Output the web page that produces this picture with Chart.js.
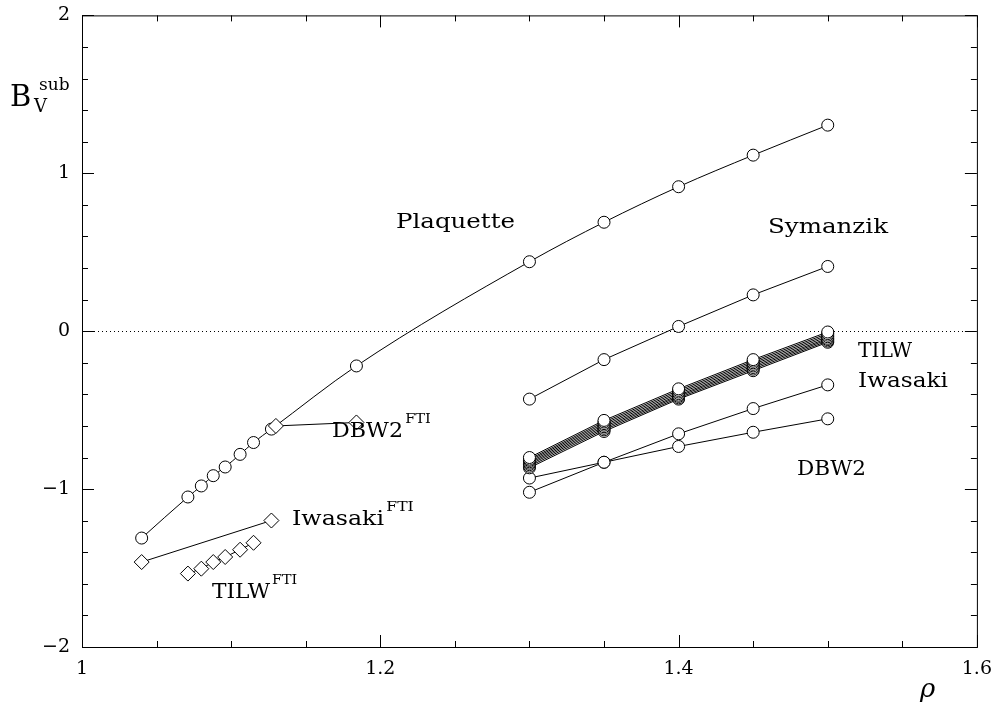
<!DOCTYPE html>
<html>
<head>
<meta charset="utf-8">
<script src="https://cdn.jsdelivr.net/npm/chart.js@4.4.0/dist/chart.umd.min.js"></script>
<style>
html, body { margin: 0; padding: 0; background: #fff; }
#wrap { width: 995px; height: 717px; position: relative; }
</style>
</head>
<body>
<div id="wrap"><canvas id="c"></canvas></div>
<script>
// rho values of the runs
var rhoFine = [1.3, 1.35, 1.4, 1.45, 1.5];

// plaquette action, full range
var plaqX = [1.040, 1.071, 1.080, 1.088, 1.096, 1.106, 1.115, 1.127, 1.184, 1.3, 1.35, 1.4, 1.45, 1.5];
var plaqY = [-1.31, -1.05, -0.98, -0.915, -0.86, -0.78, -0.705, -0.62, -0.22, 0.44, 0.69, 0.915, 1.115, 1.305];

var symanzikY = [-0.43, -0.18, 0.03, 0.23, 0.41];
var iwasakiY = [-0.93, -0.83, -0.65, -0.49, -0.34];
var dbw2Y = [-1.02, -0.83, -0.73, -0.64, -0.555];

// bundle of TILW curves (different c1)
var tilw1 = [-0.800, -0.565, -0.365, -0.180, -0.005];
var tilw2 = [-0.810, -0.575, -0.375, -0.190, -0.015];
var tilw3 = [-0.818, -0.585, -0.385, -0.200, -0.025];
var tilw4 = [-0.827, -0.595, -0.395, -0.210, -0.035];
var tilw5 = [-0.836, -0.605, -0.405, -0.220, -0.045];
var tilw6 = [-0.845, -0.615, -0.413, -0.230, -0.053];
var tilw7 = [-0.855, -0.625, -0.422, -0.240, -0.062];
var tilw8 = [-0.865, -0.635, -0.430, -0.250, -0.070];

// FTI points
var dbw2FtiX = [1.130, 1.184];
var dbw2FtiY = [-0.60, -0.578];
var iwaFtiX = [1.040, 1.127];
var iwaFtiY = [-1.462, -1.199];
var tilwFtiX = [1.071, 1.080, 1.088, 1.096, 1.106, 1.115];
var tilwFtiY = [-1.535, -1.504, -1.462, -1.430, -1.384, -1.340];

var xTicks = [1, 1.2, 1.4, 1.6];
var yTicks = [-2, -1, 0, 1, 2];

function pts(xs, ys) {
    var out = [];
    for (var i = 0; i < xs.length; i++) {
        out.push({x: xs[i], y: ys[i]});
    }
    return out;
}

function series(xs, ys, shape, smooth) {
    return {
        data: pts(xs, ys),
        showLine: true,
        borderColor: '#000',
        borderWidth: 1,
        backgroundColor: '#fff',
        pointBackgroundColor: '#fff',
        pointBorderColor: '#000',
        pointBorderWidth: 1,
        pointStyle: shape,
        pointRadius: shape == 'rectRot' ? 7.5 : 6,
        cubicInterpolationMode: smooth ? 'monotone' : 'default',
        tension: 0
    };
}

// first entries end up on top
var datasets = [
    series(dbw2FtiX, dbw2FtiY, 'rectRot'),
    series(iwaFtiX, iwaFtiY, 'rectRot'),
    series(tilwFtiX, tilwFtiY, 'rectRot'),
    series(plaqX, plaqY, 'circle', true),
    series(rhoFine, symanzikY, 'circle'),
    series(rhoFine, tilw1, 'circle'),
    series(rhoFine, tilw2, 'circle'),
    series(rhoFine, tilw3, 'circle'),
    series(rhoFine, tilw4, 'circle'),
    series(rhoFine, tilw5, 'circle'),
    series(rhoFine, tilw6, 'circle'),
    series(rhoFine, tilw7, 'circle'),
    series(rhoFine, tilw8, 'circle'),
    series(rhoFine, iwasakiY, 'circle'),
    series(rhoFine, dbw2Y, 'circle')
];

var serif = '"DejaVu Serif", serif';

// draw text squeezed/stretched to a given width
function label(ctx, txt, x, y, width, sup) {
    ctx.save();
    ctx.font = '20.5px ' + serif;
    ctx.textAlign = 'left';
    ctx.textBaseline = 'alphabetic';
    var w = ctx.measureText(txt).width;
    var k = width / w;
    ctx.translate(x, y);
    ctx.scale(k, 1);
    ctx.fillText(txt, 0, 0);
    if (sup) {
        ctx.font = '13.5px ' + serif;
        ctx.fillText(sup, w + 2, -14);
    }
    ctx.restore();
}

var frame = {
    id: 'frame',
    beforeDatasetsDraw: function(chart) {
        var ctx = chart.ctx, a = chart.chartArea;
        var ys = chart.scales.y;
        ctx.save();
        // dotted zero line
        ctx.strokeStyle = '#000';
        ctx.lineWidth = 1;
        ctx.setLineDash([1, 3]);
        ctx.beginPath();
        var y0 = Math.round(ys.getPixelForValue(0)) + 0.5;
        ctx.moveTo(a.left, y0);
        ctx.lineTo(a.right, y0);
        ctx.stroke();
        ctx.restore();
    },
    afterDraw: function(chart) {
        var ctx = chart.ctx, a = chart.chartArea;
        var xs = chart.scales.x, ys = chart.scales.y;
        ctx.save();
        ctx.strokeStyle = '#000';
        ctx.lineWidth = 1;
        ctx.strokeRect(a.left + 0.5, a.top + 0.5, a.right - a.left, a.bottom - a.top);
        ctx.beginPath();
        // x ticks every 0.05, majors every 0.2
        for (var i = 0; i <= 12; i++) {
            var v = 1 + i * 0.05;
            var px = Math.round(xs.getPixelForValue(v)) + 0.5;
            var len = (i % 4 == 0) ? 12 : 6;
            ctx.moveTo(px, a.bottom);
            ctx.lineTo(px, a.bottom - len);
            ctx.moveTo(px, a.top);
            ctx.lineTo(px, a.top + len);
        }
        // y ticks every 0.2, majors every 1
        for (var j = 0; j <= 20; j++) {
            var w = -2 + j * 0.2;
            var py = Math.round(ys.getPixelForValue(w)) + 0.5;
            var l2 = (j % 5 == 0) ? 12 : 6;
            ctx.moveTo(a.left, py);
            ctx.lineTo(a.left + l2, py);
            ctx.moveTo(a.right, py);
            ctx.lineTo(a.right - l2, py);
        }
        ctx.stroke();

        ctx.fillStyle = '#000';
        label(ctx, 'Plaquette', 396, 228, 119);
        label(ctx, 'Symanzik', 768, 233, 120);
        label(ctx, 'TILW', 858, 357, 54);
        label(ctx, 'Iwasaki', 858, 387, 90);
        label(ctx, 'DBW2', 797, 475, 69);
        label(ctx, 'DBW2', 332, 437, 71, 'FTI');
        label(ctx, 'Iwasaki', 292, 525, 92, 'FTI');
        label(ctx, 'TILW', 212, 598, 58, 'FTI');

        // axis titles
        ctx.font = '29px ' + serif;
        ctx.fillText('B', 10, 106);
        ctx.font = '18px ' + serif;
        ctx.fillText('V', 34, 112);
        ctx.font = '17px ' + serif;
        ctx.fillText('sub', 39, 90);
        ctx.font = 'italic 26px ' + serif;
        ctx.fillText('\u03c1', 920, 697);
        ctx.restore();
    }
};

new Chart(document.getElementById('c'), {
    type: 'scatter',
    data: {datasets: datasets},
    options: {
        responsive: true,
        maintainAspectRatio: false,
        animation: false,
        layout: {padding: {top: 4, right: 16, left: 0, bottom: 0}},
        plugins: {legend: {display: false}, tooltip: {enabled: false}},
        scales: {
            x: {
                type: 'linear', min: 1, max: 1.6,
                afterBuildTicks: function(s) { s.ticks = xTicks.map(function(v) { return {value: v}; }); },
                afterFit: function(s) { s.height = 70; },
                grid: {display: false},
                border: {display: false},
                ticks: {
                    color: '#000', padding: 3,
                    font: {family: serif, size: 19},
                    callback: function(v) { return String(Math.round(v * 10) / 10); }
                }
            },
            y: {
                type: 'linear', min: -2, max: 2,
                afterBuildTicks: function(s) { s.ticks = yTicks.map(function(v) { return {value: v}; }); },
                afterFit: function(s) { s.width = 82; },
                grid: {display: false},
                border: {display: false},
                ticks: {
                    color: '#000', padding: 4,
                    font: {family: serif, size: 19},
                    callback: function(v) { return v < 0 ? '\u2212' + Math.abs(v) : String(v); }
                }
            }
        }
    },
    plugins: [frame]
});
</script>
</body>
</html>
